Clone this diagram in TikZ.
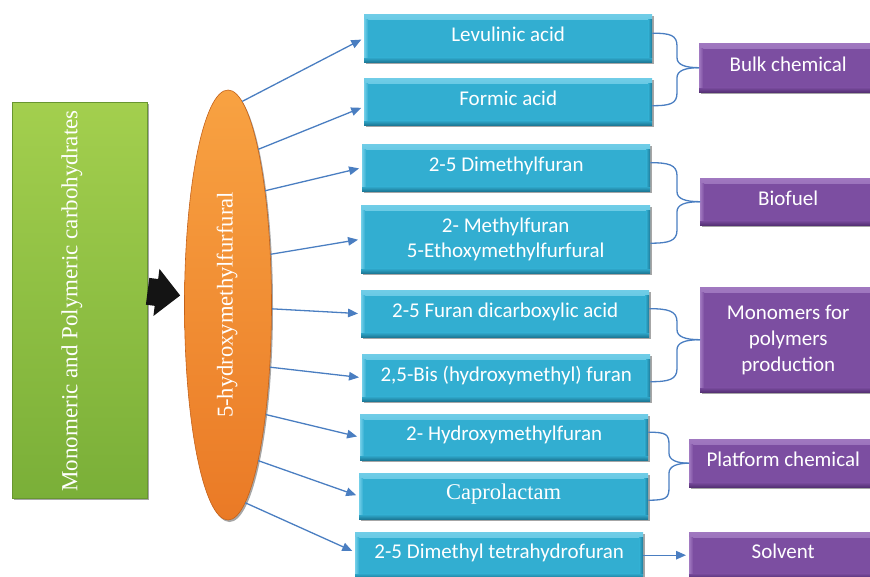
\documentclass[tikz,border=0pt]{standalone}
\usepackage{fontspec}
\setmainfont{Liberation Serif}
\newfontfamily\calib{Carlito}
\usetikzlibrary{arrows.meta,shapes.geometric,shadows,calc}

\definecolor{cyanbase}{RGB}{50,174,209}
\definecolor{cyanlight}{RGB}{112,205,231}
\definecolor{cyandark}{RGB}{28,120,150}
\definecolor{violetbase}{RGB}{124,78,161}
\definecolor{violetlight}{RGB}{160,120,192}
\definecolor{violetdark}{RGB}{84,48,116}
\definecolor{leaftop}{RGB}{163,207,78}
\definecolor{leafbottom}{RGB}{122,175,56}
\definecolor{leafedge}{RGB}{104,150,48}
\definecolor{ambertop}{RGB}{248,162,66}
\definecolor{amberbottom}{RGB}{234,122,38}
\definecolor{amberedge}{RGB}{196,98,26}
\definecolor{linkblue}{RGB}{74,126,193}

% curly join from a pair of boxes to a category box
\newcommand\pairlink[4]{%
  \draw[brk] let \p1=([yshift=5pt]#1.east), \p2=(#3.west) in
    (\p1) .. controls (\x1+18pt,\y1) and (#4pt,\y1-2pt) .. (#4pt,\y1-13pt)
    -- (#4pt,\y2+10pt) .. controls (#4pt,\y2+3pt) and (#4pt+8pt,\y2) .. (\p2);
  \draw[brk] let \p1=([yshift=-4pt]#2.east), \p2=(#3.west) in
    (\p1) .. controls (\x1+18pt,\y1) and (#4pt,\y1+2pt) .. (#4pt,\y1+13pt)
    -- (#4pt,\y2-10pt) .. controls (#4pt,\y2-3pt) and (#4pt+8pt,\y2) .. (\p2);
}

\begin{document}
\begin{tikzpicture}[x=1pt,y=-1pt,
  bevel/.style n args={3}{fill=#2, path picture={
    \shade[top color=#1, bottom color=#2] (path picture bounding box.north west)
      rectangle ([yshift=-5pt]path picture bounding box.north east);
    \shade[top color=#2, bottom color=#3] ([yshift=5pt]path picture bounding box.south west)
      rectangle (path picture bounding box.south east);
    \shade[left color=#2, right color=#3] ([xshift=-4pt,yshift=-5pt]path picture bounding box.north east)
      rectangle ([yshift=5pt]path picture bounding box.south east);
    \shade[left color=#1, right color=#2] ([yshift=-5pt]path picture bounding box.north west)
      rectangle ([xshift=4pt,yshift=5pt]path picture bounding box.south west);
  }},
  shadowed/.style={drop shadow={shadow xshift=1.5pt,shadow yshift=-2pt,opacity=0.35,fill=black}},
  cbox/.style={rectangle, inner sep=0pt, anchor=north west, text=white, align=center,
    font=\calib\fontsize{21}{25}\selectfont, bevel={cyanlight}{cyanbase}{cyandark}, shadowed},
  vbox/.style={rectangle, inner sep=0pt, anchor=north west, text=white, align=center,
    font=\calib\fontsize{21}{26}\selectfont, bevel={violetlight}{violetbase}{violetdark}, shadowed},
  oneline/.style={text height=14pt, text depth=7pt},
  link/.style={draw=linkblue, line width=1.3pt, -{Triangle[length=10pt,width=8.5pt]}, shorten >=3pt},
  brk/.style={draw=linkblue, line width=1.3pt},
  fat/.style={draw=black!92, line width=27pt, -{Triangle[length=24pt,width=46pt]}, shorten >=4pt},
]
\useasboundingbox (0,0) rectangle (870,577);
\clip (0,0) rectangle (870,577);

% source block
\node[rectangle, inner sep=0pt, anchor=north west, minimum width=135pt, minimum height=396pt,
  top color=leaftop, bottom color=leafbottom, draw=leafedge, line width=0.6pt, shadowed]
  (green) at (12,102) {};
\node[rotate=90, text=white, font=\fontsize{23}{27}\selectfont] (greentext) at (72,301)
  {Monomeric and Polymeric carbohydrates};

% platform molecule
\node[ellipse, inner sep=0pt, minimum width=87pt, minimum height=430pt,
  top color=ambertop, bottom color=amberbottom, draw=amberedge, line width=0.6pt, shadowed]
  (hmf) at (228,305) {};
\node[rotate=90, text=white, font=\fontsize{22.6}{27}\selectfont] (hmftext) at (227,305)
  {5-hydroxymethylfurfural};

% products
\node[cbox, oneline, minimum width=288pt, minimum height=48pt] (b1) at (364,14) {Levulinic acid};
\node[cbox, oneline, minimum width=288pt, minimum height=47pt] (b2) at (364,78) {Formic acid};
\node[cbox, oneline, minimum width=288pt, minimum height=47pt] (b3) at (362,144) {2-5 Dimethylfuran};
\node[cbox, minimum width=289pt, minimum height=68pt] (b4) at (361,205) {2- Methylfuran\\5-Ethoxymethylfurfural};
\node[cbox, oneline, minimum width=288pt, minimum height=47pt] (b5) at (361,290) {2-5 Furan dicarboxylic acid};
\node[cbox, oneline, minimum width=288pt, minimum height=47pt] (b6) at (362,354) {2,5-Bis (hydroxymethyl) furan};
\node[cbox, oneline, minimum width=288pt, minimum height=46pt] (b7) at (360,414) {2- Hydroxymethylfuran};
\node[cbox, oneline, minimum width=289pt, minimum height=46pt, font=\fontsize{22.5}{27}\selectfont] (b8) at (359,473) {Caprolactam};
\node[cbox, oneline, minimum width=288pt, minimum height=46pt] (b9) at (355,532) {2-5 Dimethyl tetrahydrofuran};

% categories
\node[vbox, oneline, minimum width=178pt, minimum height=49pt] (p1) at (699,43) {Bulk chemical};
\node[vbox, oneline, minimum width=176pt, minimum height=47pt] (p2) at (700,178) {Biofuel};
\node[vbox, minimum width=176pt, minimum height=105pt] (p3) at (700,287) {Monomers for\\polymers\\production};
\node[vbox, oneline, minimum width=188pt, minimum height=48pt] (p4) at (689,439) {Platform chemical};
\node[vbox, oneline, minimum width=188pt, minimum height=46pt] (p5) at (689,532) {Solvent};

% conversion arrow
\draw[fat] ([yshift=9pt]green.east) -- ([yshift=9pt]hmf.west);

% routes from HMF
\draw[link] (hmf.86) -- (b1.west);
\draw[link] (hmf.79) -- ([yshift=-5pt]b2.west);
\draw[link] (hmf.72) -- (b3.west);
\draw[link] (hmf.50) -- (b4.west);
\draw[link] (hmf.-5) -- (b5.west);
\draw[link] (hmf.-56) -- (b6.west);
\draw[link] (hmf.-71) -- (b7.west);
\draw[link] (hmf.-79) -- (b8.west);
\draw[link] (hmf.-85) -- ([yshift=3pt]b9.west);

% grouping into categories
\pairlink{b1}{b2}{p1}{677}
\pairlink{b3}{b4}{p2}{677}
\pairlink{b5}{b6}{p3}{677}
\pairlink{b7}{b8}{p4}{669}
\draw[link] (b9.east) -- (p5.west);
\end{tikzpicture}
\end{document}
